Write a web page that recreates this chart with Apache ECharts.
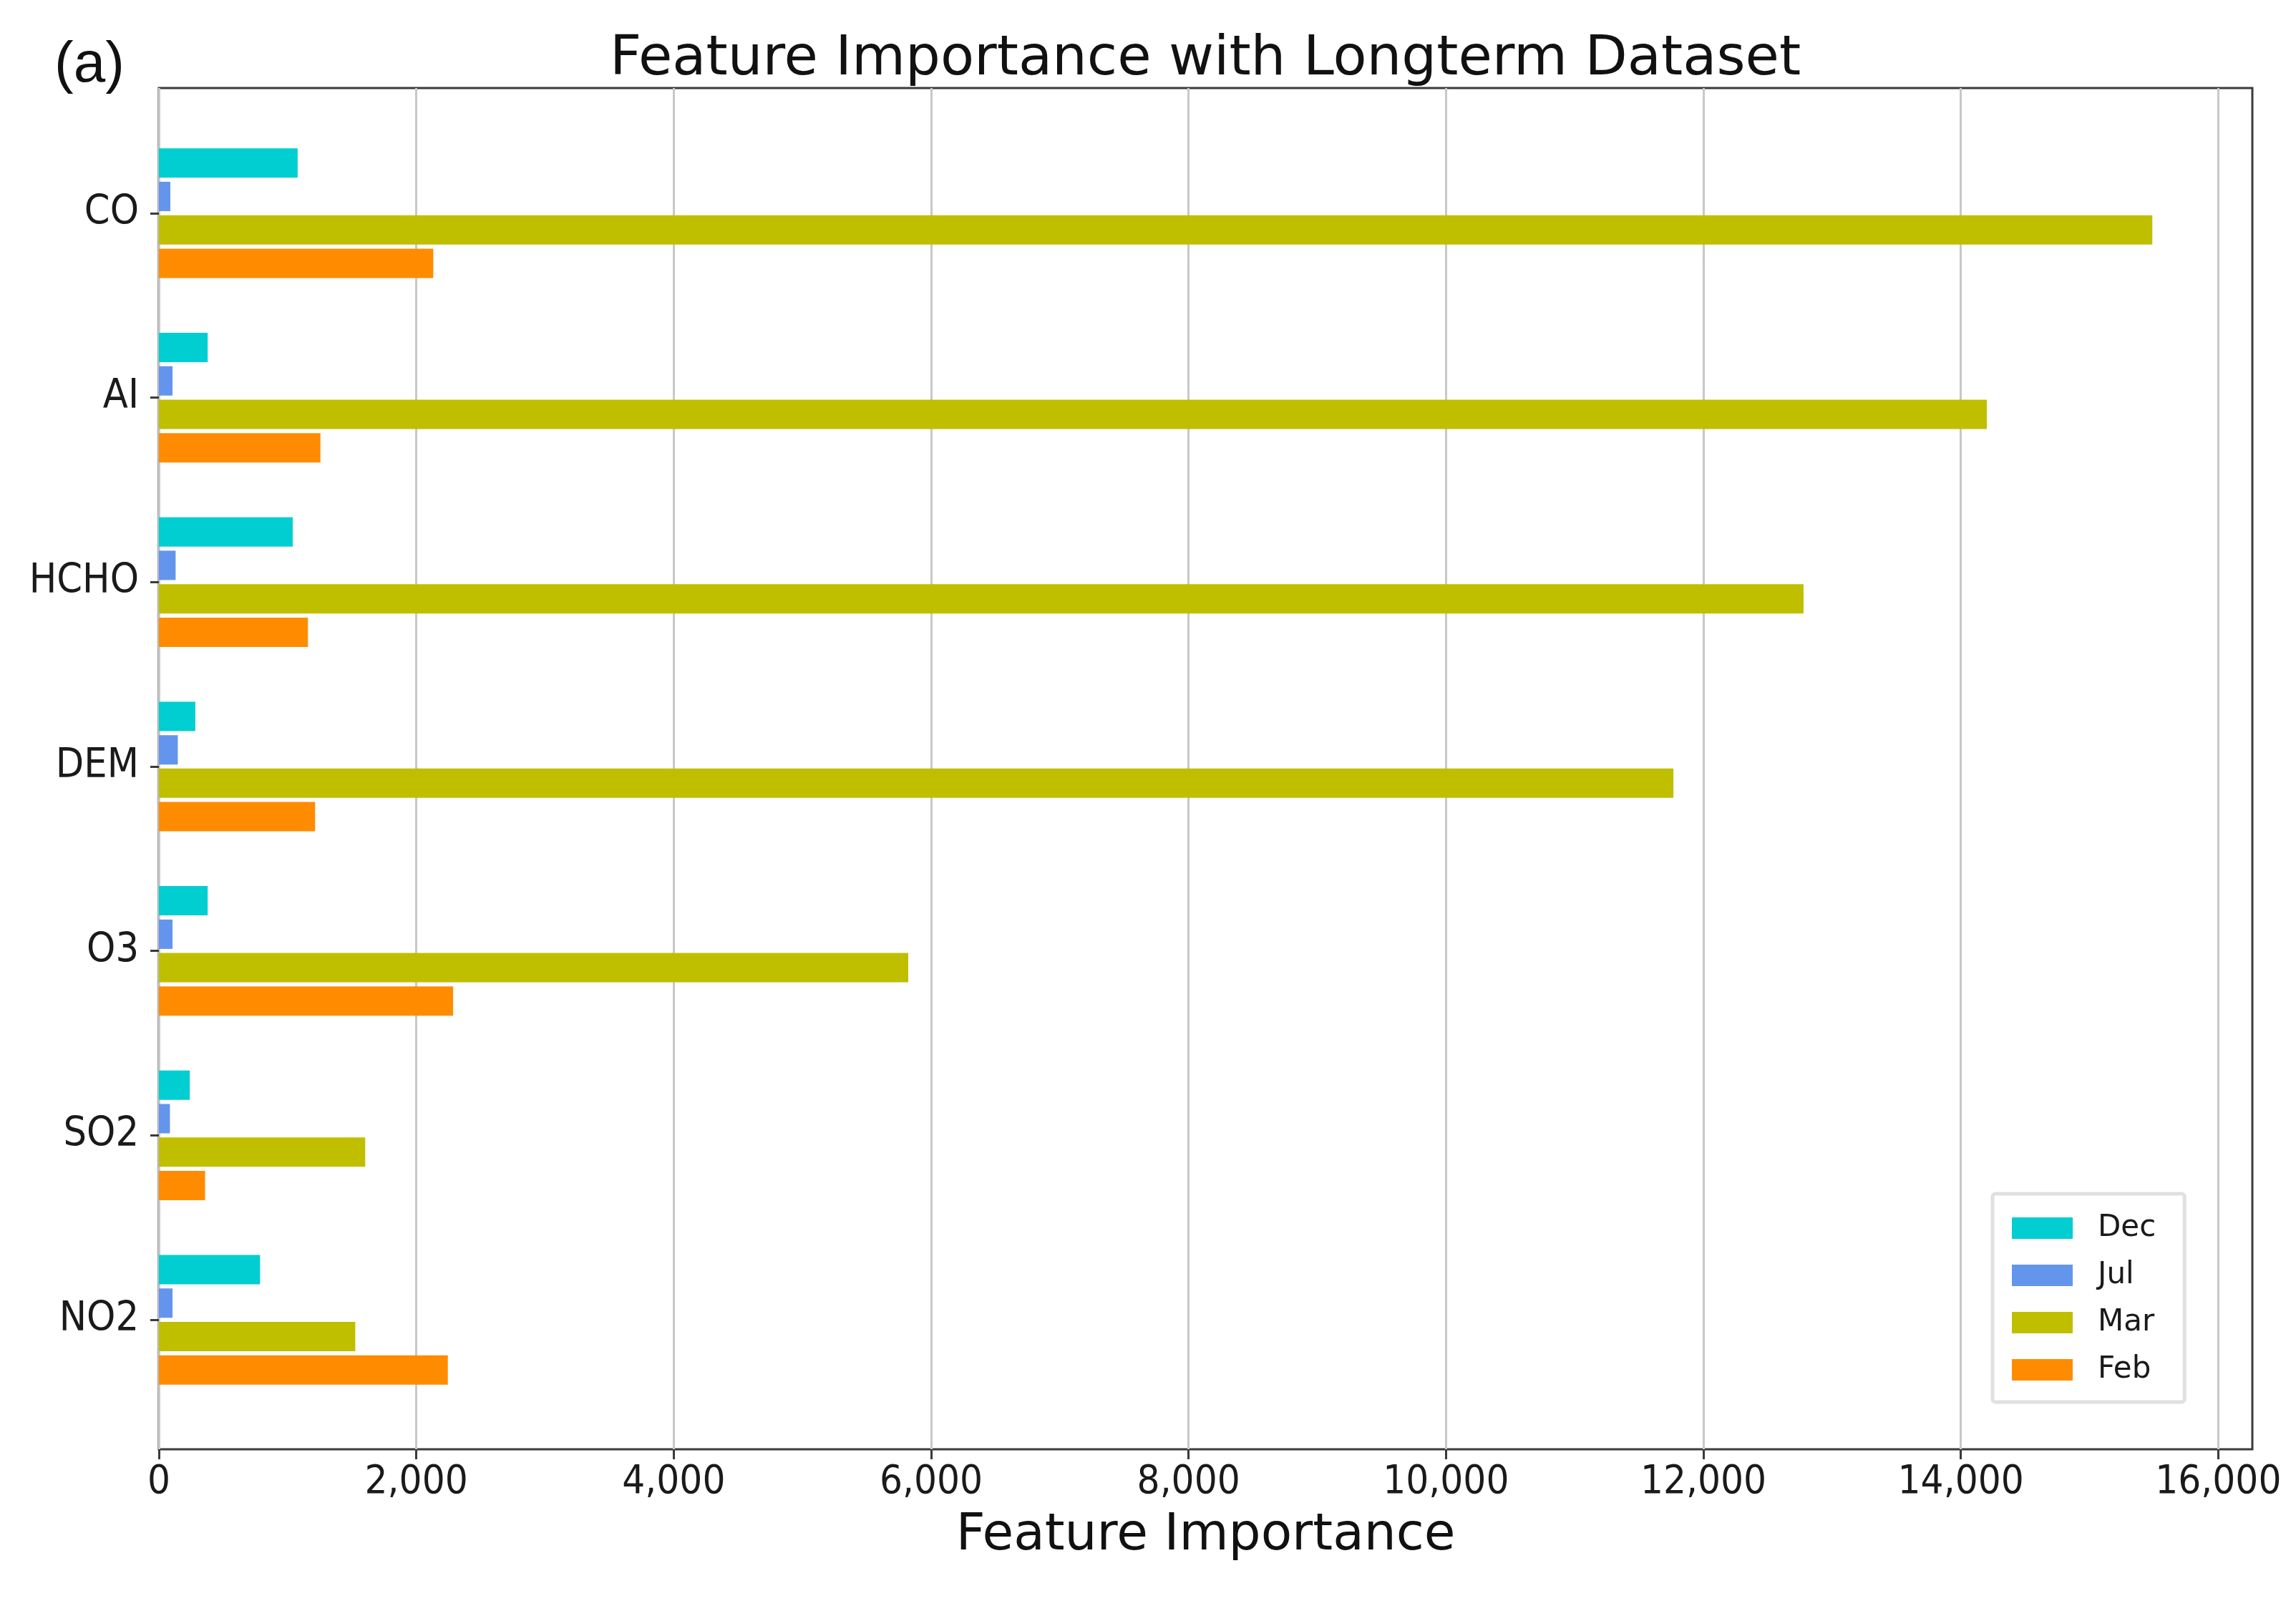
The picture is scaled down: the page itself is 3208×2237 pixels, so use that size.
<!DOCTYPE html>
<html>
<head>
<meta charset="utf-8">
<title>Feature Importance with Longterm Dataset</title>
<script src="https://cdn.jsdelivr.net/npm/echarts@6/dist/echarts.min.js"></script>
<style>
  html, body { margin: 0; padding: 0; background: #fff; }
  #chart { width: 3208px; height: 2237px; }
</style>
</head>
<body>
<div id="chart"></div>
<script>
// categories, top to bottom
const features = ['CO', 'AI', 'HCHO', 'DEM', 'O3', 'SO2', 'NO2']

// one array per month, same order as features
const decValues = [1078, 379, 1040, 283, 379, 240, 786]
const julValues = [89, 106, 130, 147, 106, 86, 106]
const marValues = [15488, 14202, 12778, 11767, 5822, 1603, 1526]
const febValues = [2132, 1255, 1158, 1214, 2286, 359, 2245]

const xTicks = [0, 2000, 4000, 6000, 8000, 10000, 12000, 14000, 16000]
const xMax = 16265

const tickFont = "'DejaVu Sans Condensed', 'DejaVu Sans', sans-serif"
const mainFont = "'DejaVu Sans', sans-serif"

function barSeries(name, data, color) {
  return {
    name: name,
    type: 'bar',
    xAxisIndex: 1,
    yAxisIndex: 1,
    data: data,
    barWidth: 41,
    barGap: '14%',
    itemStyle: { color: color },
    emphasis: { disabled: true }
  }
}

const chart = echarts.init(document.getElementById('chart'), null, { renderer: 'canvas' })

chart.setOption({
  backgroundColor: '#ffffff',
  animation: false,
  textStyle: { fontFamily: mainFont },
  grid: [
    // frame: box, gridlines, x labels
    {
      left: 222, right: 61, top: 123, bottom: 212,
      show: true,
      borderColor: '#3a3a3a',
      borderWidth: 3,
      backgroundColor: 'transparent'
    },
    // data area: category bands sit a bit inside the frame
    {
      left: 222, right: 61, top: 169, height: 1804
    }
  ],
  xAxis: [
    {
      gridIndex: 0,
      type: 'value',
      min: 0,
      max: xMax,
      interval: 2000,
      axisLine: { show: false },
      axisTick: {
        show: true,
        length: 14,
        customValues: xTicks,
        lineStyle: { color: '#3a3a3a', width: 3 }
      },
      axisLabel: {
        show: true,
        customValues: xTicks,
        margin: 18,
        fontSize: 56,
        fontFamily: tickFont,
        color: '#1a1a1a',
        formatter: function (v) { return v.toLocaleString('en-US') }
      },
      splitLine: { show: true, lineStyle: { color: '#c8c8c8', width: 3 } },
      name: 'Feature Importance',
      nameLocation: 'middle',
      nameGap: 86,
      nameTextStyle: { fontSize: 71, fontFamily: mainFont, color: '#111' }
    },
    {
      gridIndex: 1,
      type: 'value',
      min: 0,
      max: xMax,
      show: false
    }
  ],
  yAxis: [
    { gridIndex: 0, type: 'value', show: false },
    {
      gridIndex: 1,
      type: 'category',
      data: features,
      inverse: true,
      axisLine: { show: false },
      axisTick: {
        show: true,
        alignWithLabel: true,
        length: 12,
        lineStyle: { color: '#3a3a3a', width: 3 }
      },
      axisLabel: {
        margin: 28,
        fontSize: 57,
        fontFamily: tickFont,
        color: '#1a1a1a'
      },
      splitLine: { show: false }
    }
  ],
  legend: {
    orient: 'vertical',
    left: 2784,
    top: 1668,
    padding: [27, 40, 24, 27],
    itemWidth: 85,
    itemHeight: 30,
    itemGap: 24,
    icon: 'rect',
    borderColor: '#e0e0e0',
    borderWidth: 5,
    borderRadius: 4,
    backgroundColor: '#ffffff',
    textStyle: {
      fontSize: 42,
      lineHeight: 42,
      fontFamily: mainFont,
      color: '#1a1a1a',
      padding: [0, 0, 0, 30]
    },
    data: ['Dec', 'Jul', 'Mar', 'Feb']
  },
  graphic: [
    {
      type: 'text',
      x: 1684,
      y: 84,
      style: {
        text: 'Feature Importance with Longterm Dataset',
        align: 'center',
        verticalAlign: 'middle',
        fontSize: 77,
        fontFamily: mainFont,
        fill: '#111'
      }
    },
    {
      type: 'text',
      left: 76,
      top: 52,
      style: {
        text: '(a)',
        fontSize: 80,
        fontFamily: "'Liberation Sans', Arial, sans-serif",
        fill: '#111'
      }
    }
  ],
  series: [
    barSeries('Dec', decValues, '#00CED1'),
    barSeries('Jul', julValues, '#6495ED'),
    barSeries('Mar', marValues, '#BFBF00'),
    barSeries('Feb', febValues, '#FF8C00')
  ]
})
</script>
</body>
</html>
